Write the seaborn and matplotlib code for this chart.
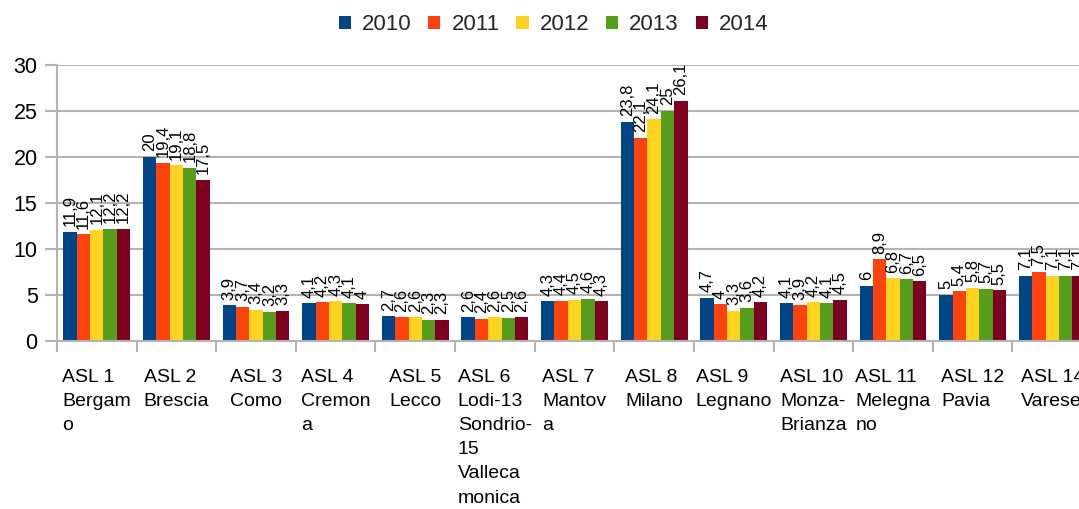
import matplotlib
matplotlib.use("Agg")
import matplotlib.pyplot as plt
import seaborn as sns
import pandas as pd
import numpy as np
from matplotlib.patches import Patch

categories = ["ASL 1\nBergam\no", "ASL 2\nBrescia", "ASL 3\nComo", "ASL 4\nCremon\na",
              "ASL 5\nLecco", "ASL 6\nLodi-13\nSondrio-\n15\nValleca\nmonica",
              "ASL 7\nMantov\na", "ASL 8\nMilano", "ASL 9\nLegnano",
              "ASL 10\nMonza-\nBrianza", "ASL 11\nMelegna\nno", "ASL 12\nPavia",
              "ASL 14\nVarese"]
years = ["2010", "2011", "2012", "2013", "2014"]
v2010 = [11.9, 20, 3.9, 4.1, 2.7, 2.6, 4.3, 23.8, 4.7, 4.1, 6, 5, 7.1]
v2011 = [11.6, 19.4, 3.7, 4.2, 2.6, 2.4, 4.4, 22.1, 4, 3.9, 8.9, 5.4, 7.5]
v2012 = [12.1, 19.1, 3.4, 4.3, 2.6, 2.6, 4.5, 24.1, 3.3, 4.2, 6.8, 5.8, 7.1]
v2013 = [12.2, 18.8, 3.2, 4.1, 2.3, 2.5, 4.6, 25, 3.6, 4.1, 6.7, 5.7, 7.1]
v2014 = [12.2, 17.5, 3.3, 4, 2.3, 2.6, 4.3, 26.1, 4.2, 4.5, 6.5, 5.5, 7.1]
colors = ["#004586", "#ff420e", "#ffd320", "#579d1c", "#7e0021"]
yticks = [0, 5, 10, 15, 20, 25, 30]

series = [v2010, v2011, v2012, v2013, v2014]
rows = []
for y, vals in zip(years, series):
    for c, v in zip(categories, vals):
        rows.append({"cat": c, "year": y, "val": v})
df = pd.DataFrame(rows)

sns.set_theme(style="white")
plt.rcParams["font.family"] = ["Liberation Sans", "DejaVu Sans"]

fig = plt.figure(figsize=(10.79, 5.09), dpi=100)
ax = fig.add_axes([57/1079, 168/509, 1035/1079, 276/509])

sns.barplot(data=df, x="cat", y="val", hue="year", order=categories,
            hue_order=years, palette=colors, width=0.84, saturation=1,
            linewidth=0, ax=ax, legend=False)

def fmt(v):
    s = ("%g" % v).replace(".", ",")
    return s

for cont, vals in zip(ax.containers, series):
    ax.bar_label(cont, labels=[fmt(v) for v in vals], rotation=90,
                 padding=4, fontsize=12, color="black")

ax.set_xlim(-0.5, len(categories) - 0.5)
ax.set_ylim(0, 30)
ax.set_yticks(yticks)
ax.set_yticklabels([str(t) for t in yticks], fontsize=15.5, color="black")
ax.yaxis.grid(True, color="#b3b3b3", linewidth=1.5)
ax.set_axisbelow(True)
ax.set_xlabel("")
ax.set_ylabel("")

ax.set_xticks(np.arange(len(categories)))
ax.set_xticklabels(categories, fontsize=14, color="black", linespacing=1.55,
                   ha="center", multialignment="left", va="top")
ax.set_xticks(np.arange(len(categories) + 1) - 0.5, minor=True)
ax.tick_params(axis="x", which="major", length=0, pad=20)
ax.tick_params(axis="x", which="minor", length=8, width=1.5, color="#b3b3b3",
               direction="out", bottom=True)
ax.tick_params(axis="y", which="major", length=9, width=1.5, color="#b3b3b3",
               direction="out", left=True, pad=5)

for s in ["top", "right"]:
    ax.spines[s].set_visible(False)
for s in ["left", "bottom"]:
    ax.spines[s].set_color("#b3b3b3")
    ax.spines[s].set_linewidth(1.5)

handles = [Patch(facecolor=c, edgecolor="none", label=y) for c, y in zip(colors, years)]
fig.legend(handles=handles, loc="center", bbox_to_anchor=(0.513, 0.951), ncol=5,
           frameon=False, fontsize=16, handlelength=0.55, handleheight=0.55,
           handletextpad=0.5, columnspacing=0.75)

fig.savefig("out.png", dpi=100)
